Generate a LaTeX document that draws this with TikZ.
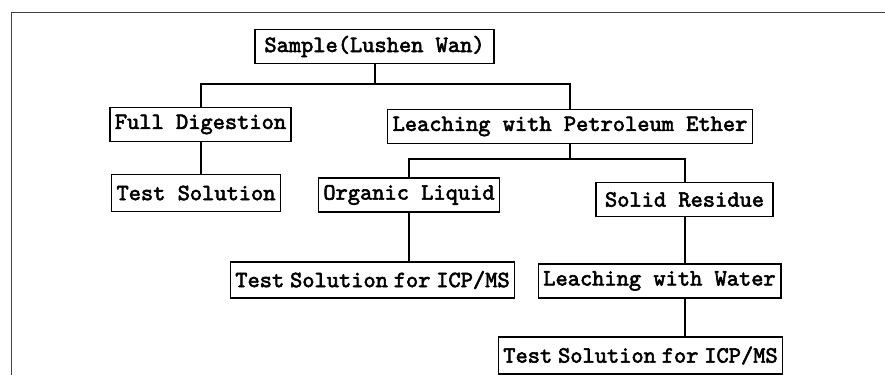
\documentclass[tikz,border=0pt]{standalone}
\usepackage{fontspec}
\newfontfamily\boxfont{lmmono10-regular.otf}[AutoFakeBold=2.5]
\usetikzlibrary{positioning}

\begin{document}
\begin{tikzpicture}[
    x=1pt, y=1pt,
    box/.style={rectangle, draw, line width=1.6pt, inner xsep=5pt, inner ysep=0pt, minimum height=34pt, font=\boxfont\bfseries\fontsize{23.3}{26}\selectfont, on grid},
    link/.style={line width=2pt},
    frame/.style={line width=0.9pt, black!75},
]
\useasboundingbox (0,0) rectangle (885,-375);
% Page frame
\draw[frame] (11,-375) -- (11,-12) -- (885,-12);

% First level
\node[box, minimum width=239pt] (sample) at (374.5,-46.5) {Sample(Lushen Wan)};
\node[box, below left=78pt and 174pt of sample] (full) {Full Digestion};
\node[box, below right=80pt and 195.5pt of sample] (lpe) {Leaching with Petroleum Ether};
% Second level
\node[box, below left=68.5pt and 4.5pt of full, minimum height=37pt] (ts) {Test Solution};
\node[box, below left=68.5pt and 161pt of lpe] (org) {Organic Liquid};
\node[box, below right=73pt and 114.5pt of lpe, minimum width=177pt] (solid) {Solid Residue};
% Third level
\node[box, below left=85pt and 36.5pt of org, minimum height=36pt] (icpa) {Test\hspace{0.25em}Solution\hspace{0.25em}for\hspace{0.25em}ICP/MS};
\node[box, below left=81.5pt and 25pt of solid] (water) {Leaching with Water};
\node[box, below left=74.5pt and 19pt of water, minimum height=37pt] (icpb) {Test\hspace{0.25em}Solution\hspace{0.25em}for\hspace{0.25em}ICP/MS};

% Branches
\draw[link] (sample.south) -- ++(0,-20) coordinate (j1);
\draw[link] (full.north) |- (j1) -| (lpe.north);
\draw[link] (full.south) -- (full.south |- ts.north);
\draw[link] (lpe.south) -- ++(0,-15) coordinate (j2);
\draw[link] (org.north) |- (j2) -| (solid.north);
\draw[link] (org.south) -- (org.south |- icpa.north);
\draw[link] (solid.south) -- (solid.south |- water.north);
\draw[link] (solid.south |- water.south) -- (solid.south |- icpb.north);
\end{tikzpicture}
\end{document}
